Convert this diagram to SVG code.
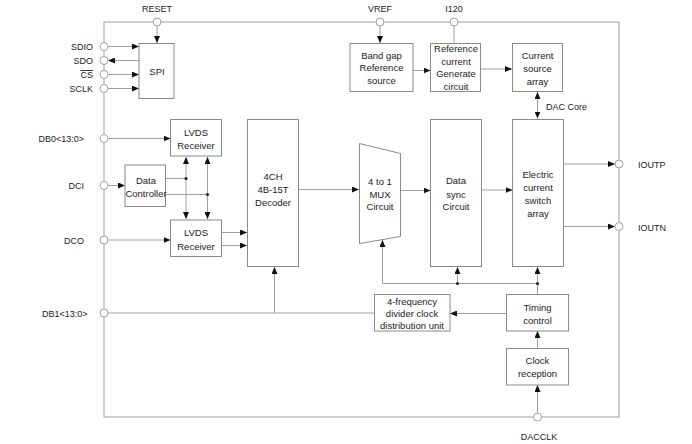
<svg xmlns="http://www.w3.org/2000/svg" width="692" height="444" viewBox="0 0 692 444">
<defs>
<marker id="ah" markerUnits="userSpaceOnUse" markerWidth="8" markerHeight="6" refX="7" refY="3" orient="auto-start-reverse">
<path d="M0,0 L7,3 L0,6 z" fill="#111"/>
</marker>
<style>
.box{fill:#fff;stroke:#8a8a8a;stroke-width:1}
.ln{fill:none;stroke:#a0a0a0;stroke-width:1}
.ar{fill:none;stroke:#a0a0a0;stroke-width:1;marker-end:url(#ah)}
.bi{fill:none;stroke:#a0a0a0;stroke-width:1;marker-end:url(#ah);marker-start:url(#ah)}
.pin{fill:#fff;stroke:#a0a0a0;stroke-width:1}
.dot{fill:#222}
text{font-family:"Liberation Sans",Arial,sans-serif;fill:#222}
.t{font-size:9.5px;text-anchor:middle}
.lb{font-size:9px}
.lr{font-size:9px;text-anchor:end}
.lc{font-size:9px;text-anchor:middle}
</style>
</defs>
<rect x="104" y="22" width="515" height="395" class="ln"/>
<g id="connectors">
<path d="M157,26 V43" class="ar"/>
<path d="M108,46.5 H139" class="ar"/>
<path d="M139,60.5 H108" class="ar"/>
<path d="M108,74.5 H139" class="ar"/>
<path d="M108,88.5 H139" class="ar"/>
<path d="M380,26 V43" class="ar"/>
<path d="M454,26 V43" class="ln"/>
<path d="M413,70.5 H430.5" class="ar"/>
<path d="M480.5,69 H512" class="ar"/>
<path d="M537.5,92 V118.5" class="bi"/>
<path d="M108,138.5 H170.5" class="ar"/>
<path d="M108,185.5 H125" class="ar"/>
<path d="M108,240 H170.5" class="ar"/>
<path d="M165.5,178.5 H186" class="ln"/>
<path d="M165.5,194.5 H207.5" class="ln"/>
<path d="M186,157 V219" class="bi"/>
<path d="M207.5,157 V219" class="bi"/>
<path d="M221.5,232.5 H247" class="ar"/>
<path d="M221.5,245.5 H247" class="ar"/>
<path d="M298.5,189.5 H359" class="ar"/>
<path d="M400.5,190.5 H430.5" class="ar"/>
<path d="M481.5,190 H512.5" class="ar"/>
<path d="M563,164 H615" class="ar"/>
<path d="M563,226.5 H615" class="ar"/>
<path d="M537.5,294 V283.5 H382.5 V240" class="ar"/>
<path d="M457.5,283.5 V267" class="ar"/>
<path d="M537.5,283.5 V267" class="ar"/>
<path d="M506.5,313.5 H450" class="ar"/>
<path d="M374,313 H108" class="ln"/>
<path d="M274.5,313 V267" class="ar"/>
<path d="M537.5,348 V331" class="ar"/>
<path d="M537.5,413 V385" class="ar"/>
<circle cx="186" cy="178.5" r="1.6" class="dot"/>
<circle cx="207.5" cy="194.5" r="1.6" class="dot"/>
<circle cx="457.5" cy="283.5" r="1.6" class="dot"/>
<circle cx="537.5" cy="283.5" r="1.6" class="dot"/>
</g>
<g id="pins">
<circle cx="157" cy="22" r="4" class="pin"/>
<circle cx="380" cy="22" r="4" class="pin"/>
<circle cx="454" cy="22" r="4" class="pin"/>
<circle cx="104" cy="46.5" r="4" class="pin"/>
<circle cx="104" cy="60.5" r="4" class="pin"/>
<circle cx="104" cy="74.5" r="4" class="pin"/>
<circle cx="104" cy="88.5" r="4" class="pin"/>
<circle cx="104" cy="138.5" r="4" class="pin"/>
<circle cx="104" cy="185.5" r="4" class="pin"/>
<circle cx="104" cy="240" r="4" class="pin"/>
<circle cx="104" cy="313" r="4" class="pin"/>
<circle cx="619" cy="164" r="4" class="pin"/>
<circle cx="619" cy="226.5" r="4" class="pin"/>
<circle cx="537.5" cy="417" r="4" class="pin"/>
<text x="157" y="12" class="lc">RESET</text>
<text x="380" y="12" class="lc">VREF</text>
<text x="454" y="12" class="lc">I120</text>
<text x="539" y="439.5" class="lc">DACCLK</text>
<text x="93" y="50" class="lr">SDIO</text>
<text x="93" y="64" class="lr">SDO</text>
<text x="93" y="78" class="lr" style="text-decoration:overline">CS</text>
<text x="93" y="92" class="lr">SCLK</text>
<text x="84" y="141.5" class="lr">DB0&lt;13:0&gt;</text>
<text x="84" y="188.5" class="lr">DCI</text>
<text x="84" y="243.5" class="lr">DCO</text>
<text x="87.5" y="316.5" class="lr">DB1&lt;13:0&gt;</text>
<text x="638" y="167.5" class="lb">IOUTP</text>
<text x="638" y="231" class="lb">IOUTN</text>
<text x="546" y="110" class="lb">DAC Core</text>
</g>
<g id="spi">
<rect x="139" y="43.5" width="35" height="55" class="box"/>
<text x="157" y="75" class="t">SPI</text>
</g>
<g id="bandgap">
<rect x="350" y="43.5" width="63" height="48" class="box"/>
<text x="381.5" y="58.5" class="t">Band gap</text>
<text x="381.5" y="71" class="t">Reference</text>
<text x="381.5" y="84" class="t">source</text>
</g>
<g id="refcurrent">
<rect x="430.5" y="43.5" width="50" height="48" class="box"/>
<text x="456" y="52" class="t">Reference</text>
<text x="456" y="64.5" class="t">current</text>
<text x="456" y="77" class="t">Generate</text>
<text x="456" y="90" class="t">circuit</text>
</g>
<g id="cursrc">
<rect x="512.5" y="43.5" width="50" height="48" class="box"/>
<text x="537.5" y="58.5" class="t">Current</text>
<text x="537.5" y="71.5" class="t">source</text>
<text x="537.5" y="84.5" class="t">array</text>
</g>
<g id="lvds1">
<rect x="170.5" y="119.5" width="51" height="36.5" class="box"/>
<text x="196" y="136" class="t">LVDS</text>
<text x="196" y="148.5" class="t">Receiver</text>
</g>
<g id="lvds2">
<rect x="170.5" y="220" width="51" height="36.5" class="box"/>
<text x="196" y="236" class="t">LVDS</text>
<text x="196" y="249.5" class="t">Receiver</text>
</g>
<g id="datactrl">
<rect x="125" y="165" width="40.5" height="41.5" class="box"/>
<text x="146" y="184" class="t">Data</text>
<text x="146" y="196.5" class="t">Controller</text>
</g>
<g id="decoder">
<rect x="247.5" y="119.5" width="51" height="147" class="box"/>
<text x="273" y="180" class="t">4CH</text>
<text x="273" y="193" class="t">4B-15T</text>
<text x="273" y="206" class="t">Decoder</text>
</g>
<g id="mux">
<path d="M359.5,143.5 L400.5,153.5 L400.5,236.5 L359.5,243.5 Z" class="box"/>
<text x="380" y="185" class="t">4 to 1</text>
<text x="380" y="197.5" class="t">MUX</text>
<text x="380" y="210" class="t">Circuit</text>
</g>
<g id="datasync">
<rect x="430.5" y="119.5" width="51" height="147" class="box"/>
<text x="456" y="184" class="t">Data</text>
<text x="456" y="197.5" class="t">sync</text>
<text x="456" y="210" class="t">Circuit</text>
</g>
<g id="switch">
<rect x="512.5" y="119.5" width="51" height="147" class="box"/>
<text x="538" y="177.5" class="t">Electric</text>
<text x="538" y="191" class="t">current</text>
<text x="538" y="203.5" class="t">switch</text>
<text x="538" y="216.5" class="t">array</text>
</g>
<g id="timing">
<rect x="506.5" y="294.5" width="62" height="36.5" class="box"/>
<text x="537.5" y="311" class="t">Timing</text>
<text x="537.5" y="323.5" class="t">control</text>
</g>
<g id="divider">
<rect x="374.5" y="294.5" width="75.5" height="36.5" class="box"/>
<text x="412" y="304.5" class="t">4-frequency</text>
<text x="412" y="317" class="t">divider clock</text>
<text x="412" y="329" class="t">distribution unit</text>
</g>
<g id="clockrx">
<rect x="506.5" y="348.5" width="62" height="36.5" class="box"/>
<text x="537.5" y="364" class="t">Clock</text>
<text x="537.5" y="377" class="t">reception</text>
</g>
</svg>
